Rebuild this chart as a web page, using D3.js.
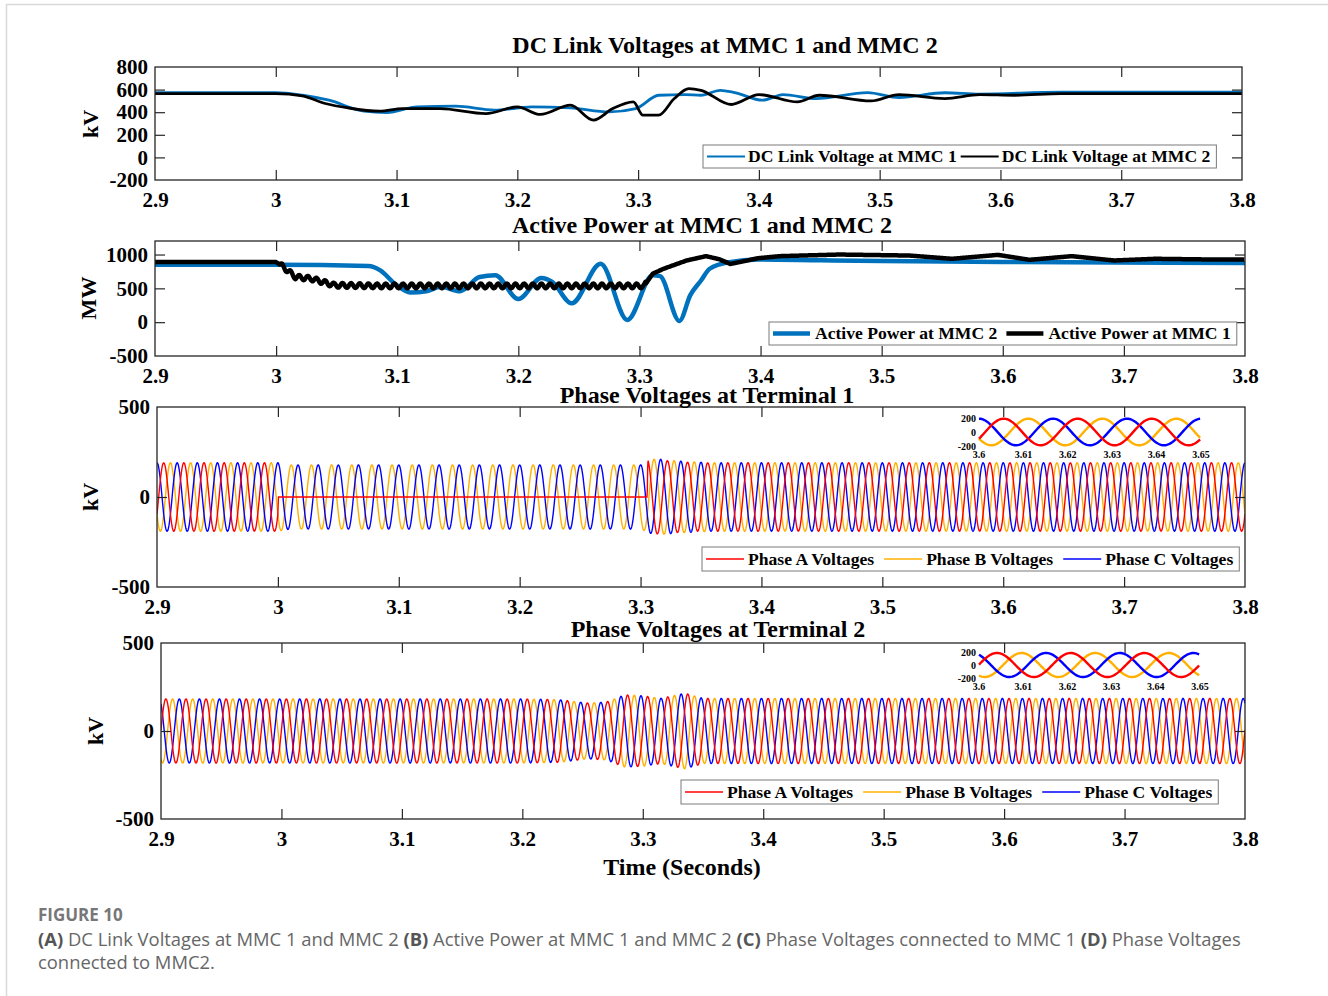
<!DOCTYPE html>
<html>
<head>
<meta charset="utf-8">
<script src="https://cdn.jsdelivr.net/npm/d3@7"></script>
<style>
  body { margin: 0; background: #fff; }
  svg text { font-family: "Liberation Serif", "Times New Roman", serif; font-weight: bold; fill: #000; }
  svg text.cap { font-family: "Open Sans", "Noto Sans", sans-serif; fill: #666; }
</style>
</head>
<body>
<script>
// ---- data ----
const xTicks = [2.9, 3.0, 3.1, 3.2, 3.3, 3.4, 3.5, 3.6, 3.7, 3.8];
const xTickLabels = ["2.9", "3", "3.1", "3.2", "3.3", "3.4", "3.5", "3.6", "3.7", "3.8"];
const insetTicks = [3.6, 3.61, 3.62, 3.63, 3.64, 3.65];
const insetTickLabels = ["3.6", "3.61", "3.62", "3.63", "3.64", "3.65"];

// (A) DC link voltage, kV
const dcMmc1T = [2.9, 3.0, 3.022, 3.044, 3.073, 3.092, 3.117, 3.149, 3.181, 3.212, 3.244, 3.276, 3.298, 3.317, 3.339, 3.352, 3.368, 3.38, 3.403, 3.42, 3.447, 3.49, 3.516, 3.554, 3.583, 3.65, 3.8];
const dcMmc1V = [574, 574, 550, 506, 409, 397, 447, 453, 418, 447, 438, 403, 432, 550, 556, 550, 594, 574, 506, 556, 521, 574, 530, 572, 560, 578, 578];
const dcMmc2T = [2.9, 3.0, 3.022, 3.041, 3.06, 3.086, 3.105, 3.136, 3.174, 3.2, 3.219, 3.244, 3.263, 3.279, 3.296, 3.304, 3.317, 3.33, 3.342, 3.352, 3.377, 3.4, 3.432, 3.45, 3.493, 3.516, 3.554, 3.583, 3.612, 3.65, 3.8];
const dcMmc2V = [565, 565, 544, 477, 438, 409, 432, 432, 388, 447, 380, 462, 330, 432, 491, 374, 374, 521, 609, 594, 468, 556, 491, 550, 500, 556, 521, 556, 550, 565, 565];

// (B) active power, MW
const pMmc2T = [2.9, 3.0, 3.076, 3.086, 3.098, 3.111, 3.124, 3.136, 3.152, 3.168, 3.181, 3.2, 3.219, 3.228, 3.244, 3.268, 3.29, 3.311, 3.317, 3.333, 3.342, 3.351, 3.358, 3.374, 3.398, 3.45, 3.5, 3.6, 3.8];
const pMmc2V = [849, 849, 829, 766, 571, 439, 458, 522, 458, 668, 693, 341, 654, 595, 278, 863, 34, 693, 680, 19, 400, 620, 790, 888, 927, 915, 905, 890, 875];
const pMmc1T = [2.9, 3.0, 3.005, 3.016, 3.029, 3.048, 3.086, 3.304, 3.311, 3.32, 3.339, 3.355, 3.366, 3.375, 3.398, 3.416, 3.465, 3.523, 3.558, 3.596, 3.622, 3.657, 3.692, 3.726, 3.77, 3.8];
const pMmc1V = [888, 888, 829, 668, 644, 546, 536, 536, 717, 790, 912, 976, 930, 860, 946, 976, 1000, 985, 937, 995, 922, 976, 912, 937, 927, 927];
// ripple on MMC 1 power during the fault: [start, end, amplitude MW, Hz]
const pMmc1Ripple = [3.003, 3.305, 35, 140];

// (C)/(D) phase voltage envelopes (peak kV) and phase angles
const gridFreq = 60;
const t1EnvAT = [2.9, 3.0, 3.0005, 3.3055, 3.306, 3.325, 3.345, 3.8];
const t1EnvAV = [190, 190, 0, 0, 208, 200, 190, 190];
const t1EnvBT = [2.9, 3.0, 3.01, 3.3, 3.312, 3.33, 3.36, 3.8];
const t1EnvBV = [190, 190, 178, 178, 212, 200, 190, 190];
const t2EnvT = [2.9, 3.2, 3.23, 3.255, 3.27, 3.285, 3.3, 3.315, 3.335, 3.35, 3.8];
const t2EnvV = [182, 182, 178, 158, 165, 205, 200, 185, 215, 185, 185];
const phaseDeg = [-120, 120, 0];       // A, B, C at terminal 1
const t2Shift = 32;                    // terminal 2 leads by ~32 deg
const phaseNames = ["Phase A Voltages", "Phase B Voltages", "Phase C Voltages"];
const phaseColors = ["#ff0000", "#ffb000", "#0000ff"];

// ---- drawing ----
const W = 1328, H = 996;
const svg = d3.select("body").append("svg").attr("width", W).attr("height", H);

svg.append("rect").attr("x", 6.5).attr("y", 4.5).attr("width", W).attr("height", H)
  .attr("fill", "none").attr("stroke", "#d9d9d9").attr("stroke-width", 1.5);

const panels = [
  { left: 155, right: 1242, top: 67, bottom: 180, yDomain: [-200, 800], yTicks: [-200, 0, 200, 400, 600, 800],
    title: "DC Link Voltages at MMC 1 and MMC 2", tx: 725, ty: 53, yLabel: "kV", lx: 90, ly: 124 },
  { left: 155, right: 1245, top: 241, bottom: 356, yDomain: [-500, 1200], yTicks: [-500, 0, 500, 1000],
    title: "Active Power at MMC 1 and MMC 2", tx: 702, ty: 233, yLabel: "MW", lx: 88, ly: 298 },
  { left: 157, right: 1245, top: 407, bottom: 587, yDomain: [-500, 500], yTicks: [-500, 0, 500],
    title: "Phase Voltages at Terminal 1", tx: 707, ty: 403, yLabel: "kV", lx: 90, ly: 497 },
  { left: 161, right: 1245, top: 643, bottom: 819, yDomain: [-500, 500], yTicks: [-500, 0, 500],
    title: "Phase Voltages at Terminal 2", tx: 718, ty: 637, yLabel: "kV", lx: 95, ly: 731 }
];

function styleAxis(g, size) {
  g.attr("font-family", null).attr("font-size", size).attr("font-weight", "bold");
  g.selectAll(".domain").remove();
  g.selectAll(".tick line").attr("stroke", "#262626").attr("stroke-width", 1.2);
}

panels.forEach((p, i) => {
  p.x = d3.scaleLinear().domain([2.9, 3.8]).range([p.left, p.right]);
  p.y = d3.scaleLinear().domain(p.yDomain).range([p.bottom, p.top]);
  const g = svg.append("g").attr("class", "panel" + i);
  p.g = g;

  g.append("clipPath").attr("id", "clip" + i).append("rect")
    .attr("x", p.left).attr("y", p.top).attr("width", p.right - p.left).attr("height", p.bottom - p.top);
  p.plot = g.append("g").attr("clip-path", `url(#clip${i})`);

  const fmt = d => xTickLabels[xTicks.indexOf(d)];
  styleAxis(g.append("g").attr("transform", `translate(0,${p.bottom})`)
    .call(d3.axisBottom(p.x).tickValues(xTicks).tickFormat(fmt).tickSize(-10).tickPadding(12)), 21);
  styleAxis(g.append("g").attr("transform", `translate(0,${p.top})`)
    .call(d3.axisTop(p.x).tickValues(xTicks).tickFormat("").tickSize(-10)), 21);
  styleAxis(g.append("g").attr("transform", `translate(${p.left},0)`)
    .call(d3.axisLeft(p.y).tickValues(p.yTicks).tickFormat(d => String(d)).tickSize(-10).tickPadding(7)), 21);
  styleAxis(g.append("g").attr("transform", `translate(${p.right},0)`)
    .call(d3.axisRight(p.y).tickValues(p.yTicks).tickFormat("").tickSize(-10)), 21);
  g.selectAll(".tick text").attr("fill", "#000");
  g.selectAll(".tick").filter(d => d === p.yDomain[0] || d === p.yDomain[1] || d === 2.9 || d === 3.8)
    .select("line").remove();

  g.append("rect").attr("x", p.left).attr("y", p.top).attr("width", p.right - p.left).attr("height", p.bottom - p.top)
    .attr("fill", "none").attr("stroke", "#262626").attr("stroke-width", 1.3);

  g.append("text").attr("x", p.tx).attr("y", p.ty).attr("text-anchor", "middle").attr("font-size", 24).text(p.title);
  g.append("text").attr("transform", `translate(${p.lx},${p.ly}) rotate(-90)`).attr("text-anchor", "middle")
    .attr("dy", "0.35em").attr("font-size", 22).text(p.yLabel);
});

svg.append("text").attr("x", 682).attr("y", 875).attr("text-anchor", "middle").attr("font-size", 24).text("Time (Seconds)");

// keypoint series
function keyLine(p, ts, vs, color, width, ripple) {
  let pts = ts.map((t, i) => [t, vs[i]]);
  const line = d3.line().x(d => p.x(d[0])).y(d => p.y(d[1])).curve(d3.curveMonotoneX);
  if (ripple) {
    const base = d3.scaleLinear().domain(ts).range(vs);
    const [t0, t1, amp, f] = ripple;
    pts = d3.range(2.9, 3.8, 0.0005).map(t => {
      let v = base(t);
      if (t > t0 && t < t1) v += amp * Math.sin(2 * Math.PI * f * (t - t0));
      return [t, v];
    });
    line.curve(d3.curveLinear);
  }
  p.plot.append("path").attr("d", line(pts)).attr("fill", "none").attr("stroke", color)
    .attr("stroke-width", width).attr("stroke-linejoin", "round");
}

keyLine(panels[0], dcMmc1T, dcMmc1V, "#0072bd", 2.8);
keyLine(panels[0], dcMmc2T, dcMmc2V, "#000", 2.8);
keyLine(panels[1], pMmc2T, pMmc2V, "#0072bd", 4.5);
keyLine(panels[1], pMmc1T, pMmc1V, "#000", 4.5, pMmc1Ripple);

// phase voltages: envelope x carrier
const env1 = [d3.scaleLinear().domain(t1EnvAT).range(t1EnvAV).clamp(true),
              d3.scaleLinear().domain(t1EnvBT).range(t1EnvBV).clamp(true),
              d3.scaleLinear().domain(t1EnvBT).range(t1EnvBV).clamp(true)];
const env2 = d3.scaleLinear().domain(t2EnvT).range(t2EnvV).clamp(true);
const w = 2 * Math.PI * gridFreq;
const rad = Math.PI / 180;
function phaseVal(term, k, t) {
  const a = term === 1 ? env1[k](t) : env2(t);
  const ph = phaseDeg[k] + (term === 1 ? 0 : t2Shift);
  return a * Math.cos(w * t + ph * rad);
}
const drawOrder = [1, 2, 0];
function waves(p, term, x, y, t0, t1, width, target) {
  const ts = d3.range(t0, t1 + 1e-9, 0.0003);
  drawOrder.forEach(k => {
    const line = d3.line().x(t => x(t)).y(t => y(phaseVal(term, k, t)));
    target.append("path").attr("d", line(ts)).attr("fill", "none").attr("stroke", phaseColors[k])
      .attr("stroke-width", width);
  });
}
waves(panels[2], 1, panels[2].x, panels[2].y, 2.9, 3.8, 1.4, panels[2].plot);
waves(panels[3], 2, panels[3].x, panels[3].y, 2.9, 3.8, 1.4, panels[3].plot);

// zoom insets
function inset(p, term, box) {
  const x = d3.scaleLinear().domain([3.6, 3.65]).range([box.x0, box.x1]);
  const y = d3.scaleLinear().domain([-200, 200]).range([box.y1, box.y0]);
  const g = p.g.append("g");
  waves(p, term, x, y, 3.6, 3.65, 2.4, g);
  g.selectAll("text.iy").data([200, 0, -200]).enter().append("text")
    .attr("x", box.x0 - 3).attr("y", d => y(d)).attr("dy", "0.35em").attr("text-anchor", "end")
    .attr("font-size", 10).text(d => d);
  g.selectAll("text.ix").data(insetTicks).enter().append("text")
    .attr("x", d => x(d)).attr("y", box.y1 + 12).attr("text-anchor", "middle")
    .attr("font-size", 10).text((d, i) => insetTickLabels[i]);
}
inset(panels[2], 1, { x0: 979, x1: 1201, y0: 418, y1: 446 });
inset(panels[3], 2, { x0: 979, x1: 1200, y0: 652, y1: 678 });

// legends
function legend(p, opt, items) {
  const g = p.g.append("g");
  const box = g.append("rect").attr("x", opt.x).attr("y", opt.y).attr("height", opt.h)
    .attr("fill", "#fff").attr("stroke", "#7a7a7a").attr("stroke-width", 1);
  let cx = opt.x + 4;
  const cy = opt.y + opt.h / 2;
  items.forEach((it, i) => {
    g.append("line").attr("x1", cx).attr("x2", cx + opt.len).attr("y1", cy).attr("y2", cy)
      .attr("stroke", it.color).attr("stroke-width", opt.lw);
    const t = g.append("text").attr("x", cx + opt.len + opt.gap).attr("y", cy).attr("dy", "0.33em")
      .attr("font-size", 17.6).text(it.label);
    cx = cx + opt.len + opt.gap + t.node().getComputedTextLength();
    if (i < items.length - 1) cx += opt.item;
  });
  box.attr("width", cx + 6 - opt.x);
}
legend(panels[0], { x: 703, y: 145, h: 23, len: 38, gap: 3, item: 4, lw: 2.2 },
  [{ color: "#0072bd", label: "DC Link Voltage at MMC 1" }, { color: "#000", label: "DC Link Voltage at MMC 2" }]);
legend(panels[1], { x: 769, y: 322, h: 23, len: 37, gap: 5, item: 9, lw: 4.5 },
  [{ color: "#0072bd", label: "Active Power at MMC 2" }, { color: "#000", label: "Active Power at MMC 1" }]);
const phaseItems = phaseNames.map((n, k) => ({ color: phaseColors[k], label: n }));
legend(panels[2], { x: 702, y: 547, h: 24, len: 38, gap: 4, item: 10, lw: 1.4 }, phaseItems);
legend(panels[3], { x: 681, y: 780, h: 24, len: 38, gap: 4, item: 10, lw: 1.4 }, phaseItems);

// caption
svg.append("text").attr("class", "cap").attr("x", 38).attr("y", 921).attr("font-size", 17)
  .style("font-weight", "bold").style("fill", "#777").text("FIGURE 10");
const capLines = [
  [["(A)", 1], [" DC Link Voltages at MMC 1 and MMC 2 ", 0], ["(B)", 1], [" Active Power at MMC 1 and MMC 2 ", 0],
   ["(C)", 1], [" Phase Voltages connected to MMC 1 ", 0], ["(D)", 1], [" Phase Voltages", 0]],
  [["connected to MMC2.", 0]]
];
capLines.forEach((ln, i) => {
  const t = svg.append("text").attr("class", "cap").attr("x", 38).attr("y", 946 + i * 23).attr("font-size", 18.4)
    .attr("xml:space", "preserve");
  ln.forEach(([s, b]) => {
    t.append("tspan").text(s).style("font-weight", b ? "bold" : "normal").style("fill", b ? "#555" : "#666");
  });
});
</script>
</body>
</html>
